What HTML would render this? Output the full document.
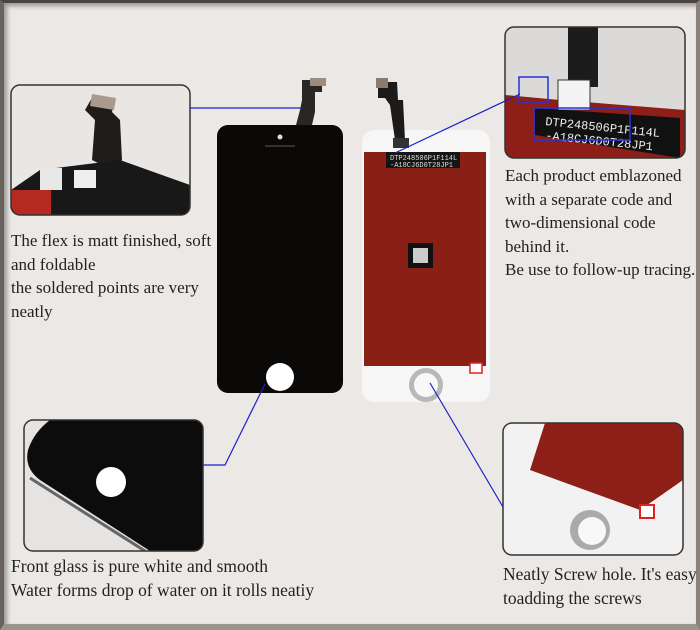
<!DOCTYPE html>
<html><head><style>
html,body{margin:0;padding:0;width:700px;height:630px;overflow:hidden;background:#e6e3e0}
#f{position:absolute;left:0;top:0;width:700px;height:630px;box-sizing:border-box;border-top:3px solid #4a4440;border-left:4px solid #6a625c;border-right:4px solid #8a827c;border-bottom:6px solid #9a948e;background:#ebe8e5;box-shadow:inset 3px 3px 5px rgba(0,0,0,.35)}
.t{position:absolute;font-family:"Liberation Serif",serif;font-size:17px;color:#222;line-height:23.5px;white-space:nowrap}
.c{transform-origin:0 0;transform:scaleX(.97)}
</style></head><body>
<div id="f"></div>
<svg width="700" height="630" style="position:absolute;left:0;top:0">
<defs><clipPath id="c1"><rect x="11" y="85" width="179" height="130" rx="9"/></clipPath>
<clipPath id="c2"><rect x="505" y="27" width="180" height="131" rx="9"/></clipPath>
<clipPath id="c3"><rect x="24" y="420" width="179" height="131" rx="9"/></clipPath>
<clipPath id="c4"><rect x="503" y="423" width="180" height="132" rx="9"/></clipPath></defs>
<g clip-path="url(#c1)"><rect x="11" y="85" width="179" height="130" fill="#e9e6e3"/>
<polygon points="93,96 115,98 112,112 120,120 122,160 112,170 92,160 95,120 85,110" fill="#1f1d1c"/>
<polygon points="92,94 116,98 114,110 90,106" fill="#a89a8e"/>
<polygon points="11,190 40,170 120,160 190,185 190,215 11,215" fill="#181818"/>
<rect x="11" y="190" width="40" height="25" fill="#b42a20"/>
<rect x="40" y="168" width="22" height="22" fill="#e8e8e8"/><rect x="74" y="170" width="22" height="18" fill="#eee"/></g>
<rect x="11" y="85" width="179" height="130" rx="9" fill="none" stroke="#333" stroke-width="1.5"/>
<g clip-path="url(#c2)"><rect x="505" y="27" width="180" height="131" fill="#dcdad8"/>
<polygon points="505,95 560,100 685,110 685,158 505,158" fill="#8e1e18"/>
<rect x="568" y="27" width="30" height="60" fill="#1c1c1c"/>
<rect x="558" y="80" width="32" height="30" fill="#f4f4f4" stroke="#333"/>
<polygon points="535,108 680,118 680,158 535,135" fill="#111"/>
<text x="545" y="125" font-family="Liberation Mono,monospace" font-size="12" fill="#eee" transform="rotate(6 545 125)">DTP248506P1F114L</text>
<text x="545" y="139" font-family="Liberation Mono,monospace" font-size="12" fill="#eee" transform="rotate(6 545 139)">-A18CJ6D0T28JP1</text>
<rect x="519" y="77" width="29" height="26" fill="none" stroke="#2233dd" stroke-width="1.5"/>
<rect x="534" y="108" width="96" height="32" fill="none" stroke="#2233dd" stroke-width="1.5"/></g>
<rect x="505" y="27" width="180" height="131" rx="9" fill="none" stroke="#333" stroke-width="1.5"/>
<g clip-path="url(#c3)"><rect x="24" y="420" width="179" height="131" fill="#e6e4e2"/>
<path d="M50,420 H203 V551 H150 L40,480 Q24,468 28,450 Q34,432 50,420 Z" fill="#0c0c0c"/>
<path d="M30,478 L145,551" stroke="#666" stroke-width="3"/>
<circle cx="111" cy="482" r="15" fill="#fff"/></g>
<rect x="24" y="420" width="179" height="131" rx="9" fill="none" stroke="#333" stroke-width="1.5"/>
<g clip-path="url(#c4)"><rect x="503" y="423" width="180" height="132" fill="#f2f2f2"/>
<polygon points="545,423 683,423 683,480 640,510 530,470" fill="#8e1e18"/>
<circle cx="590" cy="530" r="20" fill="#aaa"/><circle cx="592" cy="531" r="14" fill="#f8f8f8"/>
<rect x="640" y="505" width="14" height="13" fill="#fff" stroke="#d22" stroke-width="2"/></g>
<rect x="503" y="423" width="180" height="132" rx="9" fill="none" stroke="#333" stroke-width="1.5"/>
<polygon points="302,80 322,80 322,92 315,92 315,112 312,125 296,125 300,110 302,100" fill="#2a2624"/>
<rect x="310" y="78" width="16" height="8" fill="#9c8c7e"/>
<rect x="217" y="125" width="126" height="268" rx="11" fill="#0b0908"/>
<circle cx="280" cy="137" r="2.5" fill="#ddd"/>
<rect x="265" y="145" width="30" height="2" fill="#333"/>
<circle cx="280" cy="377" r="14" fill="#fff"/>
<rect x="362" y="130" width="128" height="272" rx="12" fill="#f6f6f6"/>
<polygon points="378,82 397,82 398,100 403,100 405,140 395,140 390,105 385,98 378,98" fill="#1d1b1a"/>
<rect x="376" y="78" width="12" height="10" fill="#8a7c70"/>
<rect x="393" y="138" width="16" height="10" fill="#333"/>
<rect x="364" y="152" width="122" height="214" fill="#8a1f16"/>
<rect x="386" y="152" width="74" height="16" fill="#151515"/>
<text x="390" y="160" font-family="Liberation Mono,monospace" font-size="7" fill="#ddd">DTP248506P1F114L</text>
<text x="390" y="167" font-family="Liberation Mono,monospace" font-size="7" fill="#ddd">-A18CJ6D0T28JP1</text>
<rect x="408" y="243" width="25" height="25" fill="#111"/><rect x="413" y="248" width="15" height="15" fill="#ccc"/>
<rect x="470" y="363" width="12" height="10" fill="#fff" stroke="#d22" stroke-width="1.5"/>
<circle cx="426" cy="385" r="17" fill="#b8b8b8"/><circle cx="426" cy="385" r="12" fill="#f8f8f8"/>
<g stroke="#1a22c8" stroke-width="1.2" fill="none">
<polyline points="190,108 302,108"/>
<polyline points="265,384 225,465 203,465"/>
<polyline points="395,153 520,94"/>
<polyline points="430,383 503,507"/>
</g>
</svg>
<div class="t" style="left:11px;top:229px">The flex is matt finished, soft<br>and foldable<br>the soldered points are very<br>neatly</div>
<div class="t" style="left:505px;top:164px">Each product emblazoned<br>with a separate code and<br>two-dimensional code<br>behind it.<br>Be use to follow-up tracing.</div>
<div class="t c" style="left:11px;top:555px;font-size:18px">Front glass is pure white and smooth<br>Water forms drop of water on it rolls neatiy</div>
<div class="t c" style="left:503px;top:563px;font-size:18px">Neatly Screw hole. It's easy<br>toadding the screws</div>
</body></html>
